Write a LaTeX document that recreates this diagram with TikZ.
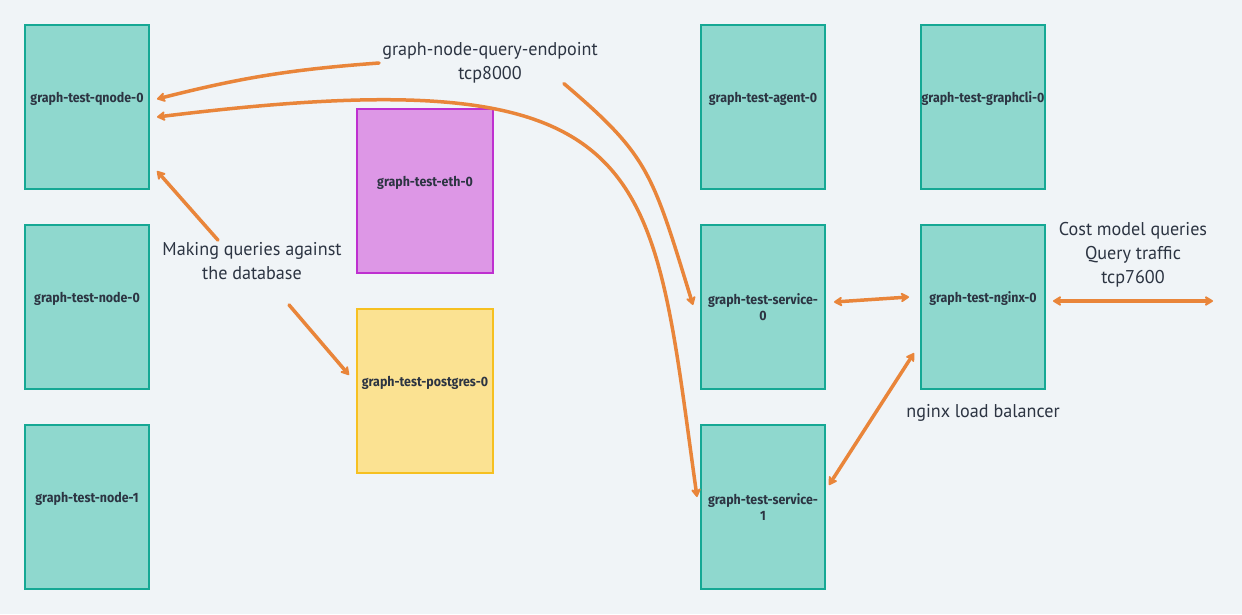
\documentclass[tikz,border=0pt]{standalone}
\usepackage{fontspec}
\usetikzlibrary{arrows.meta,calc}
\newfontfamily\ptsans{PT Sans}[FakeStretch=0.98]
\newfontfamily\firabd{Fira Sans}[FakeStretch=0.92]
\newcommand\bxfont{\firabd\bfseries\fontsize{13.5}{16}\selectfont}
\newcommand\ntfont{\ptsans\fontsize{18.5}{24}\selectfont}
\definecolor{bg}{RGB}{240,244,247}
\definecolor{tealF}{RGB}{143,216,206}
\definecolor{tealB}{RGB}{22,168,148}
\definecolor{purF}{RGB}{221,151,230}
\definecolor{purB}{RGB}{190,48,208}
\definecolor{yelF}{RGB}{251,226,146}
\definecolor{yelB}{RGB}{246,192,32}
\definecolor{orng}{RGB}{233,133,58}
\definecolor{txt}{RGB}{44,52,66}
\tikzset{
  box/.style={draw=tealB, fill=tealF, line width=1.6pt, minimum width=124pt, minimum height=164pt, inner sep=0pt, outer sep=0pt},
  ethbox/.style={box, draw=purB, fill=purF, minimum width=136pt},
  pgbox/.style={box, draw=yelB, fill=yelF, minimum width=136pt},
  btxt/.style={font=\bxfont, text=txt, align=center, inner sep=0pt},
  note/.style={font=\ntfont, text=txt, align=center, inner sep=0pt},
  tip/.tip={Stealth[length=10pt,width=12pt,inset=3pt,round]},
  arr/.style={draw=orng, line width=3.5pt, line cap=round, -tip},
  darr/.style={arr, tip-tip},
}
\begin{document}
\begin{tikzpicture}[x=1pt,y=-1pt]
\fill[bg] (0,0) rectangle (1242,614);
\useasboundingbox (0,0) rectangle (1242,614);
% boxes
\node[box, label={[btxt,yshift=8pt]center:graph-test-qnode-0}] (qnode) at (87,107) {};
\node[box, label={[btxt,yshift=8pt]center:graph-test-node-0}] (node0) at (87,307) {};
\node[box, label={[btxt,yshift=8pt]center:graph-test-node-1}] (node1) at (87,507) {};
\node[ethbox, label={[btxt,yshift=8pt]center:graph-test-eth-0}] (eth) at (425,191) {};
\node[pgbox, label={[btxt,yshift=8pt]center:graph-test-postgres-0}] (pg) at (425,391) {};
\node[box, label={[btxt,yshift=8pt]center:graph-test-agent-0}] (agent) at (763,107) {};
\node[box, label={[btxt,yshift=8pt]center:graph-test-graphcli-0}] (cli) at (983,107) {};
\node[box, label={[btxt]center:graph-test-service-\\0}] (svc0) at (763,307) {};
\node[box, label={[btxt,yshift=8pt]center:graph-test-nginx-0}] (nginx) at (983,307) {};
\node[box, label={[btxt]center:graph-test-service-\\1}] (svc1) at (763,507) {};
% notes
\node[note] (qlab) at (490,63) {graph-node-query-endpoint\\tcp8000};
\node[note] (mq) at (252,261) {Making queries against\\the database};
\node[note] (cost) at (1133,255) {Cost model queries\\Query traffic\\tcp7600};
\node[note] (lb) at (983,413) {nginx load balancer};
\coordinate (outR) at (1213,301);
% connectors
\draw[arr] ([xshift=-3pt]qlab.west) to[bend right=5] ([xshift=8pt,yshift=8pt]qnode.east);
\draw[arr] ([xshift=-34pt]qlab.south east) .. controls (649,156) and (652,172) .. ([xshift=-8pt,yshift=2pt]svc0.west);
\draw[darr] ([xshift=8pt,yshift=-10pt]qnode.east) .. controls (660,55) and (650,160) .. ([xshift=-4pt,yshift=10pt]svc1.west);
\draw[arr] ([xshift=-34pt,yshift=2pt]mq.north) -- ([xshift=8pt,yshift=18pt]qnode.south east);
\draw[arr] ([xshift=37pt,yshift=-25pt]mq.south) -- ([xshift=-8pt,yshift=16pt]pg.west);
\draw[darr] ([xshift=9pt,yshift=5pt]svc0.east) -- ([xshift=-12pt,yshift=10pt]nginx.west);
\draw[darr] ([xshift=4pt,yshift=22pt]svc1.east) -- ([xshift=-7pt,yshift=-46pt]nginx.west);
\draw[darr] ([xshift=8pt,yshift=6pt]nginx.east) -- (outR);
\end{tikzpicture}
\end{document}
